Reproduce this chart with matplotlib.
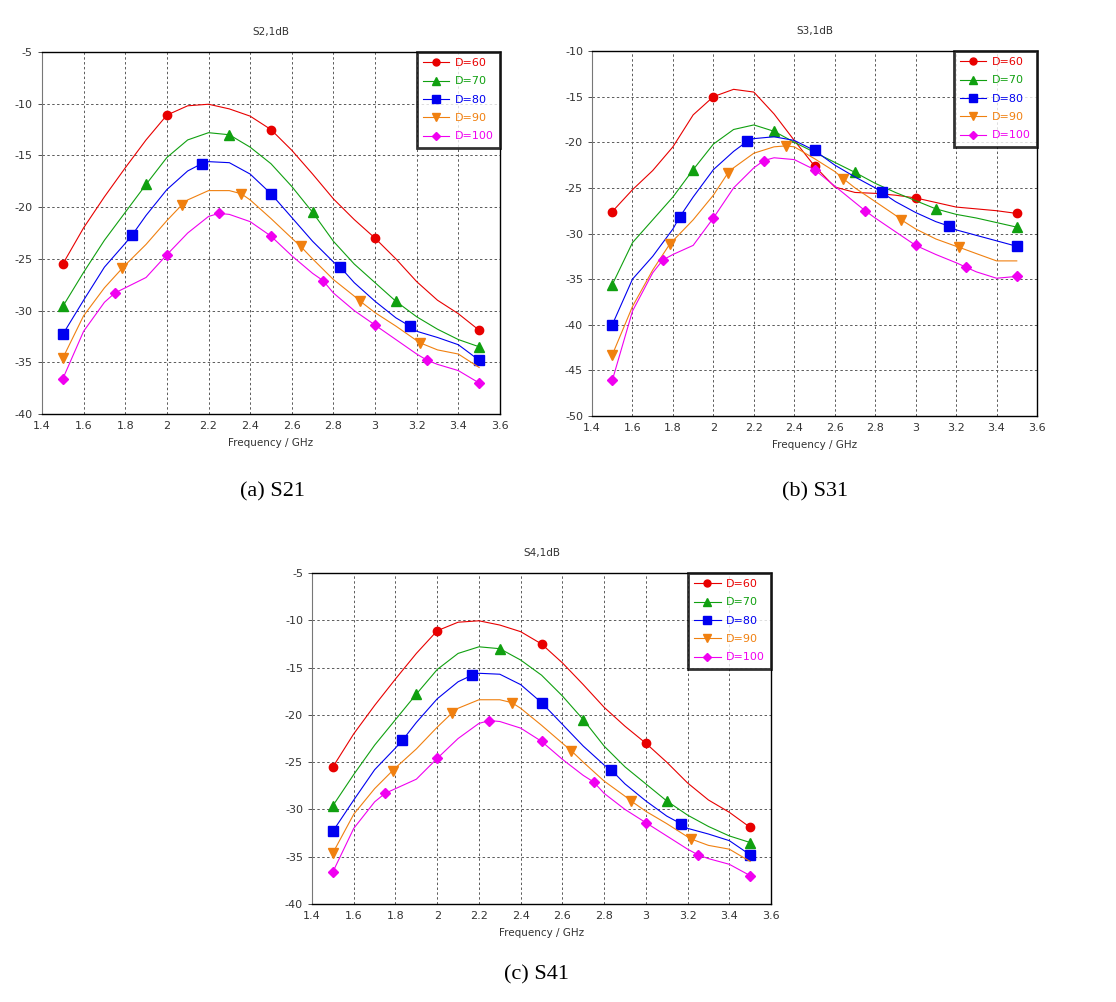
import matplotlib
matplotlib.use('Agg')
import matplotlib.pyplot as plt

# frequency grid (GHz) for the traced curves
freq = [1.5, 1.6, 1.7, 1.8, 1.9, 2.0, 2.1, 2.2, 2.3, 2.4, 2.5,
        2.6, 2.7, 2.8, 2.9, 3.0, 3.1, 3.2, 3.3, 3.4, 3.5]

# marker positions per series (GHz)
mk_x_60 = [1.5, 2.0, 2.5, 3.0, 3.5]
mk_x_70 = [1.5, 1.9, 2.3, 2.7, 3.1, 3.5]
mk_x_80 = [1.5, 1.833, 2.167, 2.5, 2.833, 3.167, 3.5]
mk_x_90 = [1.5, 1.786, 2.071, 2.357, 2.643, 2.929, 3.214]
mk_x_100 = [1.5, 1.75, 2.0, 2.25, 2.5, 2.75, 3.0, 3.25, 3.5]

# S21 (dB) curves
s21_60 = [-25.5, -22.0, -19.0, -16.2, -13.5, -11.1, -10.2, -10.05, -10.5, -11.2, -12.5,
          -14.5, -16.8, -19.2, -21.2, -23.0, -25.0, -27.2, -29.0, -30.3, -31.9]
s21_70 = [-29.6, -26.3, -23.2, -20.5, -17.8, -15.2, -13.5, -12.8, -13.0, -14.2, -15.8,
          -18.0, -20.5, -23.3, -25.5, -27.3, -29.1, -30.6, -31.8, -32.8, -33.5]
s21_80 = [-32.3, -29.0, -25.8, -23.5, -20.8, -18.3, -16.5, -15.6, -15.7, -16.8, -18.7,
          -21.0, -23.3, -25.3, -27.3, -29.1, -30.7, -32.0, -32.6, -33.3, -34.8]
s21_90 = [-34.6, -30.5, -27.8, -25.6, -23.6, -21.3, -19.3, -18.4, -18.4, -19.3, -21.1,
          -23.0, -25.0, -27.0, -28.6, -30.2, -31.5, -32.9, -33.8, -34.2, -35.5]
s21_100 = [-36.6, -32.0, -29.2, -27.8, -26.8, -24.6, -22.5, -20.9, -20.7, -21.4, -22.8,
           -24.7, -26.4, -28.3, -30.0, -31.4, -32.8, -34.2, -35.2, -35.8, -37.0]

s21_mk_60 = [-25.5, -11.1, -12.5, -23.0, -31.9]
s21_mk_70 = [-29.6, -17.8, -13.0, -20.5, -29.1, -33.5]
s21_mk_80 = [-32.3, -22.7, -15.8, -18.7, -25.8, -31.5, -34.8]
s21_mk_90 = [-34.6, -25.9, -19.8, -18.7, -23.8, -29.1, -33.1]
s21_mk_100 = [-36.6, -28.3, -24.6, -20.6, -22.8, -27.1, -31.4, -34.8, -37.0]

# S31 (dB) curves
s31_60 = [-27.6, -25.2, -23.1, -20.5, -17.0, -15.0, -14.2, -14.5, -16.9, -19.8, -22.6,
          -24.9, -25.5, -25.6, -25.8, -26.1, -26.6, -27.1, -27.3, -27.5, -27.8]
s31_70 = [-35.6, -31.0, -28.5, -26.0, -23.0, -20.2, -18.6, -18.1, -18.8, -20.0, -21.1,
          -22.2, -23.3, -24.5, -25.5, -26.4, -27.3, -27.9, -28.3, -28.8, -29.3]
s31_80 = [-40.0, -35.0, -32.5, -29.5, -26.0, -23.0, -21.0, -19.6, -19.4, -19.8, -20.9,
          -22.5, -23.8, -25.0, -26.5, -27.7, -28.7, -29.6, -30.2, -30.8, -31.4]
s31_90 = [-43.3, -38.0, -34.0, -30.8, -28.5, -25.8, -22.8, -21.2, -20.5, -20.5, -21.8,
          -23.2, -25.0, -26.5, -28.0, -29.5, -30.6, -31.4, -32.2, -33.0, -33.0]
s31_100 = [-46.1, -38.5, -34.3, -32.3, -31.3, -28.3, -25.0, -22.8, -21.7, -21.9, -23.0,
           -24.8, -26.6, -28.3, -29.8, -31.3, -32.3, -33.2, -34.2, -34.9, -34.7]

s31_mk_60 = [-27.6, -15.0, -22.6, -26.1, -27.8]
s31_mk_70 = [-35.6, -23.0, -18.8, -23.3, -27.3, -29.3]
s31_mk_80 = [-40.0, -28.2, -19.9, -20.9, -25.5, -29.2, -31.4]
s31_mk_90 = [-43.3, -31.1, -23.4, -20.4, -24.0, -28.5, -31.5]
s31_mk_100 = [-46.1, -32.9, -28.3, -22.0, -23.0, -27.5, -31.3, -33.7, -34.7]

# S41 is the same simulation result as S21
s41_60, s41_70, s41_80, s41_90, s41_100 = s21_60, s21_70, s21_80, s21_90, s21_100
s41_mk_60, s41_mk_70, s41_mk_80 = s21_mk_60, s21_mk_70, s21_mk_80
s41_mk_90, s41_mk_100 = s21_mk_90, s21_mk_100

labels = ['D=60', 'D=70', 'D=80', 'D=90', 'D=100']
colors = ['#E80000', '#10A010', '#0000F0', '#F08010', '#F000F0']
markers = ['o', '^', 's', 'v', 'D']
msizes = [6, 7, 7, 7, 5.5]
mk_xs = [mk_x_60, mk_x_70, mk_x_80, mk_x_90, mk_x_100]


def merged(xg, yg, xm, ym):
    # curve goes through the grid points and the marker points
    pts = dict(zip(xg, yg))
    for a, b in zip(xm, ym):
        pts[round(a, 3)] = b
    xs = sorted(pts)
    return xs, [pts[k] for k in xs]


def draw_panel(rect, title, ylim, yticks, lines, mks):
    ax = fig.add_axes(rect)
    for i in range(5):
        xs, ys = merged(freq, lines[i], mk_xs[i], mks[i])
        ax.plot(xs, ys, color=colors[i], lw=0.8)
        ax.plot(mk_xs[i], mks[i], linestyle='none', marker=markers[i],
                ms=msizes[i], color=colors[i], mec=colors[i])
        # legend proxy
        ax.plot([], [], color=colors[i], lw=0.8, marker=markers[i],
                ms=msizes[i] - 1, label=labels[i])
    ax.set_xlim(1.4, 3.6)
    ax.set_ylim(*ylim)
    ax.set_xticks([1.4, 1.6, 1.8, 2.0, 2.2, 2.4, 2.6, 2.8, 3.0, 3.2, 3.4, 3.6])
    ax.set_xticklabels(['1.4', '1.6', '1.8', '2', '2.2', '2.4', '2.6', '2.8',
                        '3', '3.2', '3.4', '3.6'])
    ax.set_yticks(yticks)
    ax.set_yticklabels([str(v) for v in yticks])
    ax.grid(True, color='#5a5a5a', linestyle=(0, (2.5, 2.5)), lw=0.7)
    ax.tick_params(axis='both', labelsize=8, colors='#333333', length=3, width=0.6)
    ax.tick_params(axis='x', length=0, pad=5)
    for s in ['top', 'right', 'bottom']:
        ax.spines[s].set_color('black')
        ax.spines[s].set_linewidth(1.0)
    ax.spines['left'].set_color('#777777')
    ax.spines['left'].set_linewidth(0.8)
    ax.set_title(title, fontsize=7.5, color='#333333', pad=12)
    ax.set_xlabel('Frequency / GHz', fontsize=7.5, color='#333333', labelpad=5)
    leg = ax.legend(loc='upper right', fontsize=8, frameon=True, fancybox=False,
                    borderaxespad=0.0, handlelength=2.4, handletextpad=0.5,
                    labelspacing=0.75, labelcolor='linecolor', borderpad=0.55)
    leg.get_frame().set_edgecolor('black')
    leg.get_frame().set_linewidth(2.0)
    return ax


fig = plt.figure(figsize=(11.16, 10.02), dpi=100)
fig.patch.set_facecolor('white')

draw_panel([0.0376, 0.5868, 0.4104, 0.3613], 'S2,1dB', (-40, -5),
           [-40, -35, -30, -25, -20, -15, -10, -5],
           [s21_60, s21_70, s21_80, s21_90, s21_100],
           [s21_mk_60, s21_mk_70, s21_mk_80, s21_mk_90, s21_mk_100])
draw_panel([0.5305, 0.5848, 0.3987, 0.3643], 'S3,1dB', (-50, -10),
           [-50, -45, -40, -35, -30, -25, -20, -15, -10],
           [s31_60, s31_70, s31_80, s31_90, s31_100],
           [s31_mk_60, s31_mk_70, s31_mk_80, s31_mk_90, s31_mk_100])
draw_panel([0.2796, 0.0978, 0.4113, 0.3303], 'S4,1dB', (-40, -5),
           [-40, -35, -30, -25, -20, -15, -10, -5],
           [s41_60, s41_70, s41_80, s41_90, s41_100],
           [s41_mk_60, s41_mk_70, s41_mk_80, s41_mk_90, s41_mk_100])

cap = dict(fontsize=16, family=['Liberation Serif', 'DejaVu Serif'], ha='center', va='center')
fig.text(272 / 1116, 1 - 492 / 1002, '(a) S21', **cap)
fig.text(815 / 1116, 1 - 492 / 1002, '(b) S31', **cap)
fig.text(536 / 1116, 1 - 975 / 1002, '(c) S41', **cap)

fig.savefig('out.png', dpi=100, facecolor='white')
